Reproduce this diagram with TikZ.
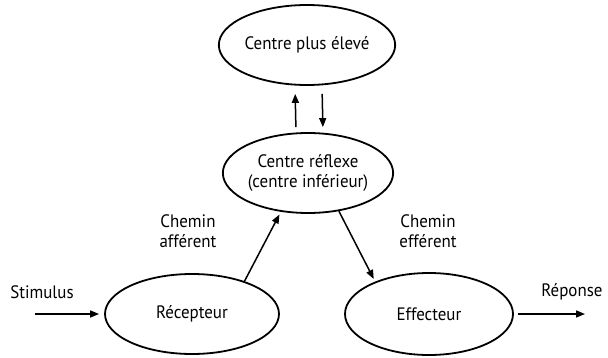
\documentclass[tikz,border=0pt]{standalone}
\usepackage{fontspec}
\setmainfont[FakeStretch=0.94]{PT Sans}
\usepackage{tikz}
\usetikzlibrary{shapes.geometric,arrows.meta}

\tikzset{
	centre/.style={draw, ellipse, line width=1.8pt, inner sep=0pt},
	fleche/.style={line width=1.5pt, -{Triangle[length=9pt,width=7pt]}},
}

\begin{document}
\begin{tikzpicture}[x=10pt,y=10pt,font=\fontsize{18}{20}\selectfont]
	\useasboundingbox (0,0) rectangle (60.8,35.7);

	\node[centre, minimum width=158pt, minimum height=80pt] (haut) at (30.7,31.2) {Centre plus élevé};
	\node[centre, minimum width=160pt, minimum height=80pt, align=center] (reflexe) at (30.8,18.4) {Centre réflexe\\(centre inférieur)};
	\node[centre, minimum width=174pt, minimum height=80pt] (recep) at (19.2,4.3) {Récepteur};
	\node[centre, minimum width=168pt, minimum height=82pt] (effec) at (42.9,4.3) {Effecteur};

	\draw[fleche, shorten <=5pt, shorten >=8pt] ([xshift=-12pt]reflexe.north) -- ([xshift=-12pt]haut.south);
	\draw[fleche, shorten <=8pt, shorten >=5pt] ([xshift=15pt]haut.south) -- ([xshift=15pt]reflexe.north);

	\draw[fleche, shorten >=3pt] (recep.32) -- (reflexe.235);
	\node[align=center] (aff) at (18.8,12.6) {Chemin\\afférent};
	\draw[fleche, shorten >=3pt] (reflexe.309) -- (effec.149);
	\node[align=center] (eff) at (42.8,12.6) {Chemin\\efférent};

	\coordinate (entree) at (3.5,4.3);
	\node (stim) at (4.2,6.5) {Stimulus};
	\draw[fleche, shorten >=5pt] (entree) -- (recep.west);

	\coordinate (sortie) at (58.5,4.3);
	\node (rep) at (57.2,6.5) {Réponse};
	\draw[fleche, shorten <=4pt] (effec.east) -- (sortie);

\end{tikzpicture}
\end{document}
